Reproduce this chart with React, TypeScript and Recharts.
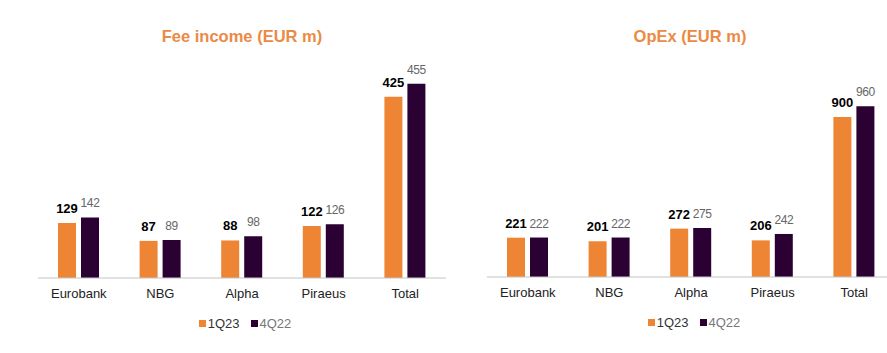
import React from 'react';
import { BarChart, Bar, XAxis, YAxis, LabelList, Legend } from 'recharts';

const banks = ['Eurobank', 'NBG', 'Alpha', 'Piraeus', 'Total'];
const feeIncome1Q23 = [129, 87, 88, 122, 425];
const feeIncome4Q22 = [142, 89, 98, 126, 455];
const opex1Q23 = [221, 201, 272, 206, 900];
const opex4Q22 = [222, 222, 275, 242, 960];
const seriesNames = ['1Q23', '4Q22'];

const ORANGE = '#EE8535';
const PURPLE = '#2B0033';
const FONT = '"Liberation Sans", Arial, Helvetica, sans-serif';

const buildRows = (a: number[], b: number[]) =>
  banks.map((name, i) => ({ name, s1: a[i], s2: b[i] }));

const feeData = buildRows(feeIncome1Q23, feeIncome4Q22);
const opexData = buildRows(opex1Q23, opex4Q22);

const LegendContent = () => (
  <div
    style={{
      display: 'flex',
      justifyContent: 'center',
      alignItems: 'center',
      height: 16,
      fontFamily: FONT,
      fontSize: 13,
      paddingLeft: 6,
    }}
  >
    <span style={{ display: 'inline-block', width: 7, height: 7, background: ORANGE, marginRight: 2 }} />
    <span style={{ color: '#333', marginRight: 11 }}>{seriesNames[0]}</span>
    <span style={{ display: 'inline-block', width: 7, height: 7, background: PURPLE, marginRight: 2 }} />
    <span style={{ color: '#777' }}>{seriesNames[1]}</span>
  </div>
);

type PanelProps = {
  data: { name: string; s1: number; s2: number }[];
  max: number;
  margin: { top: number; right: number; left: number; bottom: number };
};

const Panel = ({ data, max, margin }: PanelProps) => (
  <BarChart width={460} height={353} data={data} margin={margin} barSize={18} barGap={5}>
    <XAxis
      dataKey="name"
      axisLine={{ stroke: '#c4c4c4', strokeWidth: 1.2 }}
      tickLine={false}
      tickMargin={5}
      height={37}
      interval={0}
      tick={{ fontSize: 13, fill: '#222', fontFamily: FONT }}
    />
    <YAxis hide domain={[0, max]} />
    <Legend verticalAlign="bottom" content={<LegendContent />} />
    <Bar dataKey="s1" name={seriesNames[0]} fill={ORANGE} isAnimationActive={false}>
      <LabelList
        dataKey="s1"
        position="top"
        offset={10}
        style={{ fontSize: 13, fontWeight: 'bold', fill: '#000', fontFamily: FONT }}
      />
    </Bar>
    <Bar dataKey="s2" name={seriesNames[1]} fill={PURPLE} isAnimationActive={false}>
      <LabelList
        dataKey="s2"
        position="top"
        offset={10}
        style={{ fontSize: 12, fill: '#666', fontFamily: FONT, letterSpacing: -0.4 }}
      />
    </Bar>
  </BarChart>
);

const titleStyle: React.CSSProperties = {
  position: 'absolute',
  top: 26,
  fontFamily: FONT,
  fontSize: 16.5,
  fontWeight: 'bold',
  color: '#EB8A45',
  textAlign: 'center',
  whiteSpace: 'nowrap',
  lineHeight: '20px',
};

export default function App() {
  return (
    <div
      style={{
        position: 'absolute',
        left: 0,
        top: 0,
        width: 887,
        height: 353,
        overflow: 'hidden',
        background: '#fff',
      }}
    >
      <div style={{ ...titleStyle, left: 142, width: 200 }}>Fee income (EUR m)</div>
      <div style={{ ...titleStyle, left: 590, width: 200 }}>OpEx (EUR m)</div>
      <div style={{ position: 'absolute', left: 0, top: 0 }}>
        <Panel data={feeData} max={600} margin={{ top: 22, right: 14, left: 38, bottom: 22 }} />
      </div>
      <div style={{ position: 'absolute', left: 441, top: 0 }}>
        <Panel data={opexData} max={1400} margin={{ top: 28, right: 6, left: 46, bottom: 23 }} />
      </div>
    </div>
  );
}
